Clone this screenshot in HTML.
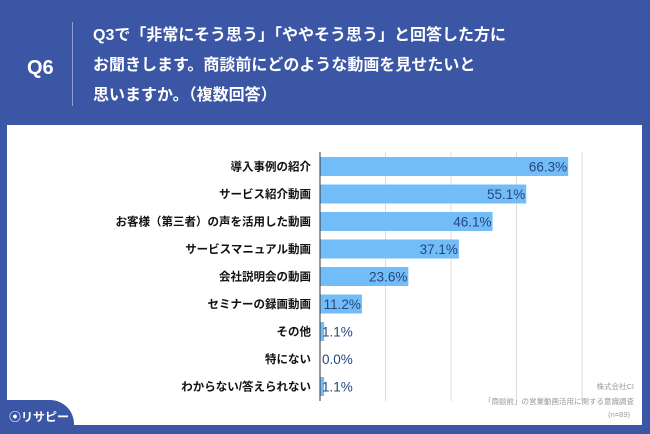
<!DOCTYPE html>
<html><head><meta charset="utf-8"><style>
body{margin:0;width:650px;height:434px;background:#3b56a5;position:relative;overflow:hidden;font-family:"Liberation Sans","Noto Sans CJK JP",sans-serif}
#q{position:absolute;left:27px;top:57px;color:#fff;font-weight:bold;font-size:20px}
#div{position:absolute;left:72px;top:22px;width:1px;height:84px;background:#8fa0d0}
#title{position:absolute;left:93px;top:21px;color:#fff;font-weight:bold;font-size:16px;line-height:30px;white-space:nowrap}
#panel{position:absolute;left:7px;top:125px;width:635px;height:300px;background:#fff}
#tab{position:absolute;left:0;top:400px;width:74px;height:34px;background:#3b56a5;border-top-right-radius:24px}
#logo{position:absolute;left:9px;top:408px;color:#fff;font-size:12px;font-weight:bold}
</style></head><body>
<div id="q">Q6</div>
<div id="div"></div>
<div id="title">Q3で「非常にそう思う」「ややそう思う」と回答した方に<br>お聞きします。商談前にどのような動画を見せたいと<br>思いますか。（複数回答）</div>
<div id="panel"></div>
<svg id="chart" width="650" height="434" style="position:absolute;left:0;top:0"></svg>
<div id="tab"></div>
<div id="logo">⦿リサピー</div>
<script>
const categories=["導入事例の紹介","サービス紹介動画","お客様（第三者）の声を活用した動画","サービスマニュアル動画","会社説明会の動画","セミナーの録画動画","その他","特にない","わからない/答えられない"];
const values=[66.3,55.1,46.1,37.1,23.6,11.2,1.1,0.0,1.1];
const gridTicks=[17.5,35,52.5,70];
const NS="http://www.w3.org/2000/svg";
const svg=document.getElementById('chart');
const x0=320,xMax=70,plotW=262,y0=166.5,step=27.5,barH=19;
const xs=v=>x0+v/xMax*plotW;
const ys=i=>y0+i*step;
function mk(t,a){const e=document.createElementNS(NS,t);for(const k in a)e.setAttribute(k,a[k]);svg.appendChild(e);return e;}
gridTicks.forEach(t=>{
 const l=mk('line',{x1:xs(t),x2:xs(t),y1:152,y2:401,stroke:'#dcdcdc','stroke-width':1});
 
 
});
categories.forEach((c,i)=>{
 const y=ys(i),v=values[i];
 const r=mk('rect',{x:x0,y:y-barH/2,width:Math.max(0,xs(v)-x0),height:barH,fill:'#72bcf7'});
 
 
 const lb=mk('text',{x:311,y:y+4,'text-anchor':'end','font-size':11.5,'font-weight':'bold',fill:'#111'});
 lb.textContent=c;
 
 
 const big=xs(v)-x0>40;
 const vt=mk('text',{x:big?xs(v)-1:322,y:y+5,'text-anchor':big?'end':'start','font-size':13.5,fill:'#24477f'});
 vt.textContent=v.toFixed(1)+'%';
 
 
});
const ax=mk('line',{x1:x0,x2:x0,y1:152,y2:401,stroke:'#333','stroke-width':1});


const notes=["株式会社CI","「商談前」の営業動画活用に関する意識調査","(n=89)"];
[389,404,417].forEach((yy,i)=>{
 const t=mk('text',{x:i==2?630:634,y:yy,'text-anchor':'end','font-size':7.5,fill:'#999'});
 t.textContent=notes[i];
 
 
});
</script>
</body></html>
